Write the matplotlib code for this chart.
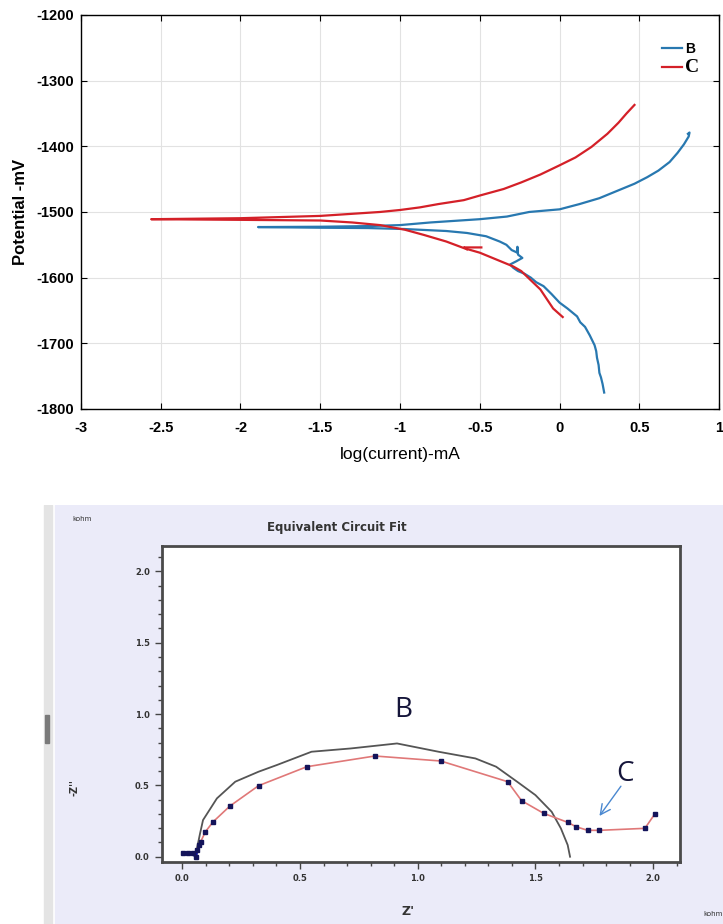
import matplotlib.pyplot as plt
from matplotlib.patches import Rectangle
from matplotlib.lines import Line2D
from matplotlib.ticker import MultipleLocator, FormatStrFormatter

plt.rcParams['axes.unicode_minus'] = False

# ---- Tafel data (log current in mA, potential in mV) ----
b_logi = [0.28, 0.27, 0.26, 0.25, 0.245, 0.235, 0.23, 0.22, 0.21, 0.19, 0.16, 0.13, 0.11,
          0.05, 0.0, -0.05, -0.10, -0.146, -0.18, -0.22, -0.26, -0.29, -0.31, -0.27,
          -0.233, -0.26, -0.264, -0.264, -0.30, -0.333, -0.375, -0.46, -0.58, -0.71,
          -0.97, -1.2, -1.5, -1.89,
          -1.5, -1.2, -1.0, -0.81, -0.5, -0.33, -0.19, 0.0, 0.125, 0.25, 0.38, 0.47,
          0.55, 0.62, 0.69, 0.74, 0.78, 0.81, 0.815, 0.805]
b_pot = [-1775, -1762, -1752, -1745, -1733, -1722, -1712, -1703, -1698, -1688, -1675, -1668, -1659,
         -1647, -1638, -1625, -1613, -1607, -1600, -1594, -1590, -1585, -1580, -1575,
         -1570, -1565, -1553, -1562, -1558, -1550, -1545, -1537, -1532, -1529,
         -1526, -1524.5, -1524, -1523,
         -1522.5, -1521.5, -1520, -1516, -1511, -1507, -1500, -1496, -1488, -1479, -1466, -1457,
         -1447, -1437, -1424, -1410, -1397, -1385, -1379, -1381]

c_logi = [0.02, -0.04, -0.12, -0.24, -0.29, -0.4, -0.5, -0.6, -0.71, -0.85, -0.97, -1.125,
          -1.3, -1.5, -2.0, -2.56,
          -2.0, -1.5, -1.125, -1.0, -0.875, -0.76, -0.6, -0.5, -0.35, -0.24, -0.12, 0.0,
          0.1, 0.2, 0.3, 0.37, 0.42, 0.47]
c_pot = [-1660, -1647, -1618, -1590, -1583, -1572, -1562, -1555, -1545, -1535, -1527, -1520,
         -1516, -1513, -1512, -1511,
         -1509.5, -1506, -1500, -1497, -1493, -1488, -1482, -1475, -1465, -1455, -1443, -1429,
         -1417, -1401, -1381, -1364, -1350, -1337]
c_spike_logi = [-0.49, -0.60, -0.58]
c_spike_pot = [-1554, -1554, -1557]

# ---- Nyquist data (kohm) ----
fit_zre = [0.06, 0.075, 0.088, 0.147, 0.225, 0.324, 0.402, 0.549, 0.716, 0.912, 1.088,
           1.245, 1.333, 1.422, 1.5, 1.569, 1.608, 1.637, 1.647]
fit_zim = [0.04, 0.16, 0.257, 0.409, 0.526, 0.596, 0.643, 0.736, 0.759, 0.794, 0.736,
           0.689, 0.631, 0.526, 0.432, 0.315, 0.199, 0.082, 0.0]

meas_zre = [0.003, 0.025, 0.045, 0.058, 0.062, 0.069, 0.078, 0.098, 0.131, 0.202, 0.324,
            0.529, 0.818, 1.098, 1.382, 1.441, 1.535, 1.637, 1.673, 1.722, 1.771, 1.965, 2.006]
meas_zim = [0.026, 0.026, 0.026, -0.005, 0.047, 0.082, 0.105, 0.175, 0.245, 0.355, 0.498,
            0.631, 0.706, 0.671, 0.526, 0.393, 0.304, 0.241, 0.210, 0.185, 0.185, 0.199, 0.297]

fig = plt.figure(figsize=(7.23, 9.24), dpi=100)

# ================= top panel =================
ax = fig.add_axes([0.112, 0.5574, 0.8825, 0.4264])
ax.plot(b_logi, b_pot, color='#2878b0', lw=1.6)
ax.plot(c_logi, c_pot, color='#d42028', lw=1.6)
ax.plot(c_spike_logi, c_spike_pot, color='#d42028', lw=1.6)
ax.set_xlim(-3, 1)
ax.set_ylim(-1800, -1200)
ax.set_xticks([-3, -2.5, -2, -1.5, -1, -0.5, 0, 0.5, 1])
ax.set_xticklabels(['-3', '-2.5', '-2', '-1.5', '-1', '-0.5', '0', '0.5', '1'])
ax.set_yticks(range(-1800, -1199, 100))
ax.grid(True, color='#e2e2e2', lw=0.8)
ax.tick_params(direction='in', top=True, right=True, length=4, width=0.8, pad=5)
ax.tick_params(axis='x', pad=9)
for lab in ax.get_xticklabels() + ax.get_yticklabels():
    lab.set_family('Liberation Sans')
    lab.set_fontsize(10.5)
    lab.set_fontweight('bold')
for sp in ax.spines.values():
    sp.set_linewidth(1.0)
ax.set_xlabel('log(current)-mA', family='Liberation Sans', fontsize=12.5, labelpad=8)
ax.set_ylabel('Potential -mV', family='Liberation Sans', fontsize=12,
              fontweight='bold', labelpad=6)

handles = [Line2D([], [], color='#2878b0', lw=1.6), Line2D([], [], color='#d42028', lw=1.6)]
leg = ax.legend(handles, ['B', 'C'], loc='upper right', bbox_to_anchor=(0.977, 0.945),
                frameon=False, handlelength=1.4, handletextpad=0.2, labelspacing=0.2,
                borderaxespad=0)
t_b, t_c = leg.get_texts()
t_b.set_fontproperties({'family': 'Liberation Sans', 'weight': 'bold', 'size': 10})
t_c.set_fontproperties({'family': 'Liberation Serif', 'weight': 'bold', 'size': 14})

# ================= bottom panel (screenshot style) =================
bg = fig.add_axes([0, 0, 1, 0.4535])
bg.set_xlim(0, 723)
bg.set_ylim(419, 0)
bg.axis('off')
bg.add_patch(Rectangle((55, 0), 668, 419, color='#ebebf9', zorder=0))
bg.add_patch(Rectangle((44, 0), 8, 419, color='#e4e4e4', zorder=1))
bg.add_patch(Rectangle((45, 210), 4, 28, color='#7a7a7a', zorder=2))
bg.text(82, 14, 'kohm', fontsize=5, color='#333333', ha='center', va='center')
bg.text(337, 23, 'Equivalent Circuit Fit', fontsize=8.5, fontweight='bold',
        color='#333333', ha='center', va='center')
bg.text(74, 283, "-Z''", fontsize=7, fontweight='bold', color='#333333',
        ha='center', va='center', rotation=90)
bg.text(408, 407, "Z'", fontsize=9, fontweight='bold', color='#333333',
        ha='center', va='center')
bg.text(703, 409, 'kohm', fontsize=5, color='#333333', ha='left', va='center')

ax2 = fig.add_axes([0.2235, 0.0674, 0.717, 0.342])
ax2.set_facecolor('white')
ax2.plot(fit_zre, fit_zim, color='#555555', lw=1.3, zorder=2)
ax2.plot(meas_zre[4:], meas_zim[4:], color='#e07878', lw=1.2, zorder=3)
ax2.plot(meas_zre[:5], meas_zim[:5], color='#1010a0', lw=2.0, zorder=3)
ax2.plot(meas_zre, meas_zim, ls='none', marker='s', ms=2.8, color='#14145a', zorder=4)
ax2.set_xlim(-0.088, 2.114)
ax2.set_ylim(-0.035, 2.18)
ax2.xaxis.set_major_locator(MultipleLocator(0.5))
ax2.xaxis.set_minor_locator(MultipleLocator(0.1))
ax2.yaxis.set_major_locator(MultipleLocator(0.5))
ax2.yaxis.set_minor_locator(MultipleLocator(0.1))
ax2.xaxis.set_major_formatter(FormatStrFormatter('%.1f'))
ax2.yaxis.set_major_formatter(FormatStrFormatter('%.1f'))
ax2.tick_params(which='both', direction='out', color='#444444', labelsize=6,
                labelcolor='#333333')
ax2.tick_params(which='major', length=5, width=1.0)
ax2.tick_params(which='minor', length=3, width=1.0)
for lab in ax2.get_xticklabels() + ax2.get_yticklabels():
    lab.set_fontweight('bold')
for sp in ax2.spines.values():
    sp.set_color('#4a4a4a')
    sp.set_linewidth(2.0)
ax2.text(0.94, 1.03, 'B', fontsize=20, color='#15153a', ha='center', va='center',
         family=['Open Sans', 'DejaVu Sans'])
ax2.text(1.88, 0.58, 'C', fontsize=20, color='#15153a', ha='center', va='center',
         family=['Open Sans', 'DejaVu Sans'])
ax2.annotate('', xy=(1.765, 0.27), xytext=(1.87, 0.51),
             arrowprops=dict(arrowstyle='->', color='#4a88d0', lw=1.0,
                             mutation_scale=18))

fig.savefig('out.png', dpi=100)
